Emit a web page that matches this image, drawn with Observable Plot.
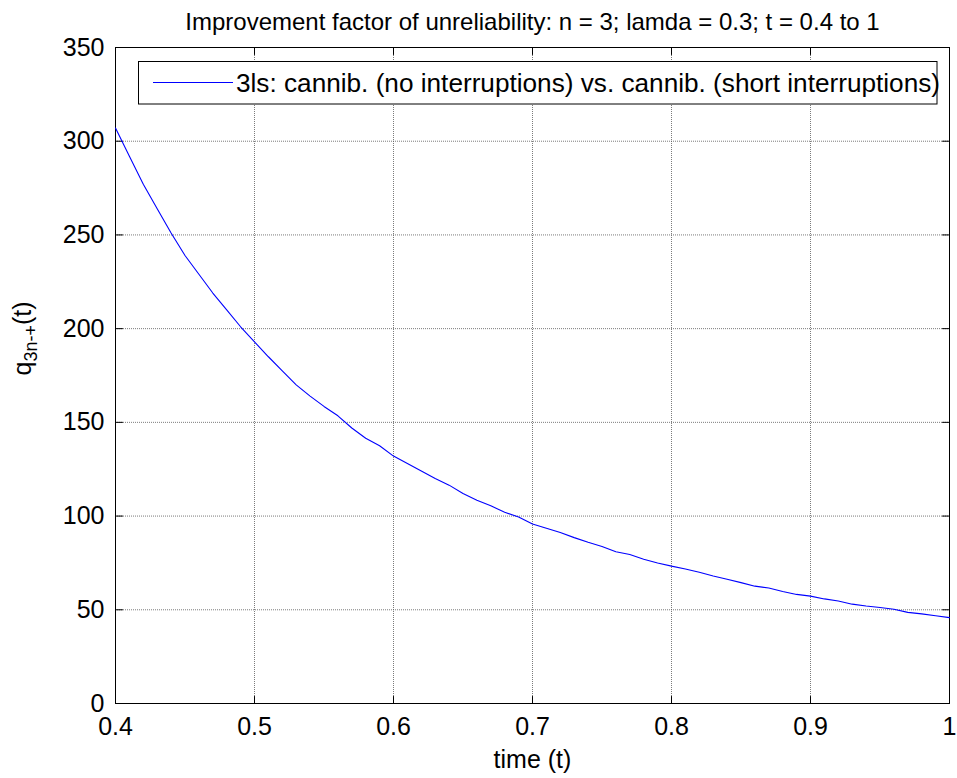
<!DOCTYPE html>
<html>
<head>
<meta charset="utf-8">
<script src="https://cdn.jsdelivr.net/npm/d3@7"></script>
<script src="https://cdn.jsdelivr.net/npm/@observablehq/plot@0.6"></script>
<style>
  html, body { margin: 0; padding: 0; background: #ffffff; }
  svg { display: block; }
</style>
</head>
<body>
<div id="chart"></div>
<script>
// ---- texts ----
const titleText = "Improvement factor of unreliability: n = 3; lamda = 0.3; t = 0.4 to 1";
const xLabelText = "time (t)";
const yLabelMain = "q";
const yLabelSub = "3n-+";
const yLabelTail = "(t)";
const legendLabel = "3ls: cannib. (no interruptions) vs. cannib. (short interruptions)";

// ---- data ----
const tValues = [
  0.40, 0.41, 0.42, 0.43, 0.44, 0.45, 0.46, 0.47, 0.48, 0.49,
  0.50, 0.51, 0.52, 0.53, 0.54, 0.55, 0.56, 0.57, 0.58, 0.59,
  0.60, 0.61, 0.62, 0.63, 0.64, 0.65, 0.66, 0.67, 0.68, 0.69,
  0.70, 0.71, 0.72, 0.73, 0.74, 0.75, 0.76, 0.77, 0.78, 0.79,
  0.80, 0.81, 0.82, 0.83, 0.84, 0.85, 0.86, 0.87, 0.88, 0.89,
  0.90, 0.91, 0.92, 0.93, 0.94, 0.95, 0.96, 0.97, 0.98, 0.99,
  1.00
];
const qValues = [
  307, 292, 277, 264, 251, 239, 229, 219, 210, 201,
  193, 185, 177.5, 170, 164, 158.5, 153.5, 147, 141.5, 137.5,
  132, 128, 124, 120, 116.5, 112, 108.5, 105.5, 102, 99.5,
  95.8, 93.5, 91.2, 88.5, 86, 83.8, 81, 79.5, 77, 75,
  73.3, 71.8, 70, 68, 66.3, 64.5, 62.6, 61.6, 59.8, 58.2,
  57.3, 55.8, 54.7, 53, 52, 51.2, 50.3, 48.6, 47.8, 46.8,
  45.8
];

// ---- ticks ----
const xTicks = [0.4, 0.5, 0.6, 0.7, 0.8, 0.9, 1.0];
const xTickLabels = ["0.4", "0.5", "0.6", "0.7", "0.8", "0.9", "1"];
const yTicks = [0, 50, 100, 150, 200, 250, 300, 350];
const yTickLabels = ["0", "50", "100", "150", "200", "250", "300", "350"];

const data = tValues.map((t, i) => ({t, q: qValues[i]}));
const font = "'Liberation Sans', Arial, Helvetica, sans-serif";
const gridStyle = {stroke: "#5a5a5a", strokeOpacity: 0.8, strokeWidth: 1, strokeDasharray: "1,1"};
const tickShape = {draw(context, l) { context.moveTo(0, 0); context.lineTo(0, -l); }};
const tickStyle = {length: 7, anchor: "start", shape: tickShape, stroke: "#000000", strokeWidth: 1};

const chart = Plot.plot({
  width: 957,
  height: 778,
  marginLeft: 115,
  marginRight: 8,
  marginTop: 47,
  marginBottom: 75,
  style: {fontFamily: font, fontSize: "25px", background: "#ffffff", color: "#000000", overflow: "visible"},
  x: {domain: [0.4, 1]},
  y: {domain: [0, 350]},
  marks: [
    Plot.gridX(xTicks, gridStyle),
    Plot.gridY(yTicks, gridStyle),
    Plot.frame({stroke: "#000000", strokeWidth: 1}),
    // inward ticks on all four sides
    Plot.vector(xTicks, {x: d => d, y: () => 0, rotate: 0, ...tickStyle}),
    Plot.vector(xTicks, {x: d => d, y: () => 350, rotate: 180, ...tickStyle}),
    Plot.vector(yTicks, {x: () => 0.4, y: d => d, rotate: 90, ...tickStyle}),
    Plot.vector(yTicks, {x: () => 1, y: d => d, rotate: -90, ...tickStyle}),
    // tick labels
    Plot.axisX(xTicks, {anchor: "bottom", tickSize: 0, tickPadding: 14, fontSize: 25,
      tickFormat: d => xTickLabels[xTicks.indexOf(d)], label: null}),
    Plot.axisY(yTicks, {anchor: "left", tickSize: 0, tickPadding: 11, fontSize: 25,
      tickFormat: d => yTickLabels[yTicks.indexOf(d)], label: null}),
    // the curve
    Plot.line(data, {x: "t", y: "q", stroke: "#0000ff", strokeWidth: 1.1}),
    // title, axis labels
    Plot.text([titleText], {frameAnchor: "top", dy: -25, fontSize: 24, lineAnchor: "middle"}),
    Plot.text([xLabelText], {frameAnchor: "bottom", dy: 56, fontSize: 25, lineAnchor: "middle"}),
    Plot.text([yLabelMain], {frameAnchor: "left", dx: -93, rotate: -90, fontSize: 25, lineAnchor: "middle"})
  ]
});

document.getElementById("chart").appendChild(chart);

// y label with subscript
const svg = d3.select(chart);
svg.selectAll("text").filter(function () { return this.textContent === yLabelMain; }).each(function () {
  const t = d3.select(this);
  t.text(null);
  t.append("tspan").text(yLabelMain);
  t.append("tspan").attr("font-size", 18).attr("dy", "6").text(yLabelSub);
  t.append("tspan").attr("dy", "-6").text(yLabelTail);
});

// legend (box, sample line, label)
const lg = svg.append("g").attr("font-family", font).attr("text-anchor", "start");
lg.append("rect").attr("x", 138.5).attr("y", 61.5).attr("width", 798.5).attr("height", 42.5)
  .attr("fill", "#ffffff").attr("stroke", "#000000").attr("stroke-width", 1);
lg.append("line").attr("x1", 153).attr("x2", 233).attr("y1", 82.5).attr("y2", 82.5)
  .attr("stroke", "#0000ff").attr("stroke-width", 1.1);
lg.append("text").attr("x", 236).attr("y", 92).attr("font-size", 25)
  .attr("text-anchor", "start")
  .attr("textLength", 704).attr("lengthAdjust", "spacingAndGlyphs")
  .attr("fill", "#000000").text(legendLabel);
</script>
</body>
</html>
